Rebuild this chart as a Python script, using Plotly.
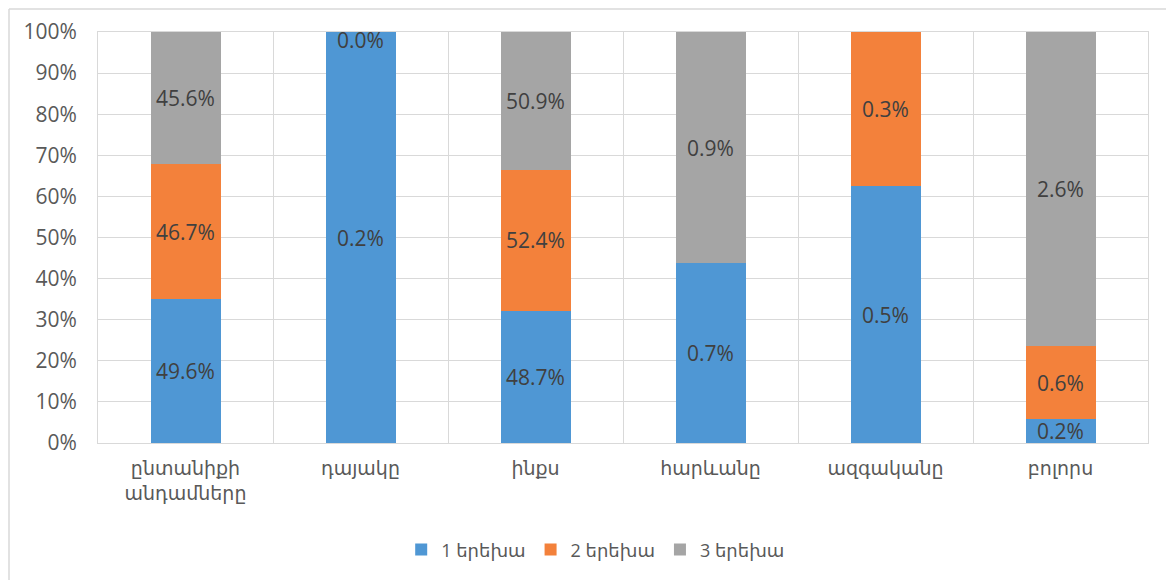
import numpy as np
import plotly.graph_objects as go

categories = ['ընտանիքի<br>անդամները', 'դայակը', 'ինքս', 'հարևանը', 'ազգականը', 'բոլորս']
series_names = ['1 երեխա', '2 երեխա', '3 երեխա']
one_child = [49.6, 0.2, 48.7, 0.7, 0.5, 0.2]
two_children = [46.7, 0.0, 52.4, 0.0, 0.3, 0.6]
three_children = [45.6, 0.0, 50.9, 0.9, 0.0, 2.6]

colors = ['#4F97D4', '#F3813B', '#A5A5A5']
text_color = '#404040'
axis_color = '#595959'
grid_color = '#D9D9D9'

values = np.array([one_child, two_children, three_children])
shares = values / values.sum(axis=0) * 100
tops = shares.cumsum(axis=0)

fig = go.Figure()

for i, name in enumerate(series_names):
    labels = ['%.1f%%' % v if v > 0 else '' for v in values[i]]
    fig.add_trace(go.Bar(
        x=categories,
        y=shares[i],
        name=name,
        marker=dict(color=colors[i], line=dict(width=0)),
        text=labels,
        textposition='inside',
        insidetextanchor='middle',
        textangle=0,
        textfont=dict(color=text_color, size=21),
        hoverinfo='skip'))

# Excel shows a label for zero segments at the top of the stack
zero_x, zero_y, zero_t = [], [], []
for j, cat in enumerate(categories):
    if values[1][j] == 0 and tops[1][j] >= 99.9:
        zero_x.append(cat)
        zero_y.append(tops[1][j])
        zero_t.append('%.1f%%' % values[1][j])

fig.add_trace(go.Scatter(
    x=zero_x, y=zero_y, text=zero_t,
    mode='text', textposition='bottom center',
    textfont=dict(color=text_color, size=21),
    showlegend=False, hoverinfo='skip', cliponaxis=False))

# the page body adds an 8px offset, margins compensate for it
fig.update_layout(
    barmode='stack',
    bargap=0.6,
    width=1174,
    height=580,
    paper_bgcolor='white',
    plot_bgcolor='white',
    font=dict(family='Open Sans, DejaVu Sans, sans-serif', color=axis_color, size=20),
    margin=dict(l=90, r=34, t=24, b=145, autoexpand=False),
    xaxis=dict(
        tickson='boundaries',
        showgrid=True,
        gridcolor=grid_color,
        gridwidth=1,
        showline=True,
        mirror=True,
        linecolor=grid_color,
        ticks='',
        ticklabelstandoff=8,
        tickfont=dict(size=19, color=axis_color),
        fixedrange=True),
    yaxis=dict(
        range=[0, 100],
        dtick=10,
        ticksuffix='%',
        showgrid=True,
        gridcolor=grid_color,
        gridwidth=1,
        showline=True,
        mirror=True,
        linecolor=grid_color,
        ticks='',
        ticklabelstandoff=16,
        tickfont=dict(size=21, color=axis_color),
        zeroline=False,
        fixedrange=True),
    legend=dict(
        orientation='h',
        x=0.474, xanchor='center',
        y=-0.26, yanchor='middle',
        itemwidth=30,
        font=dict(size=18, color=axis_color),
        traceorder='normal'),
    uniformtext=dict(minsize=21, mode='show'),
    shapes=[
        dict(type='line', xref='paper', yref='paper',
             x0=-89 / 1050, x1=-89 / 1050, y0=1 + 23 / 411, y1=-0.5,
             line=dict(color=grid_color, width=1.5), layer='above'),
        dict(type='line', xref='paper', yref='paper',
             x0=-89 / 1050, x1=1.1, y0=1 + 23 / 411, y1=1 + 23 / 411,
             line=dict(color=grid_color, width=1.5), layer='above'),
    ],
)

fig.write_html('out.html')
